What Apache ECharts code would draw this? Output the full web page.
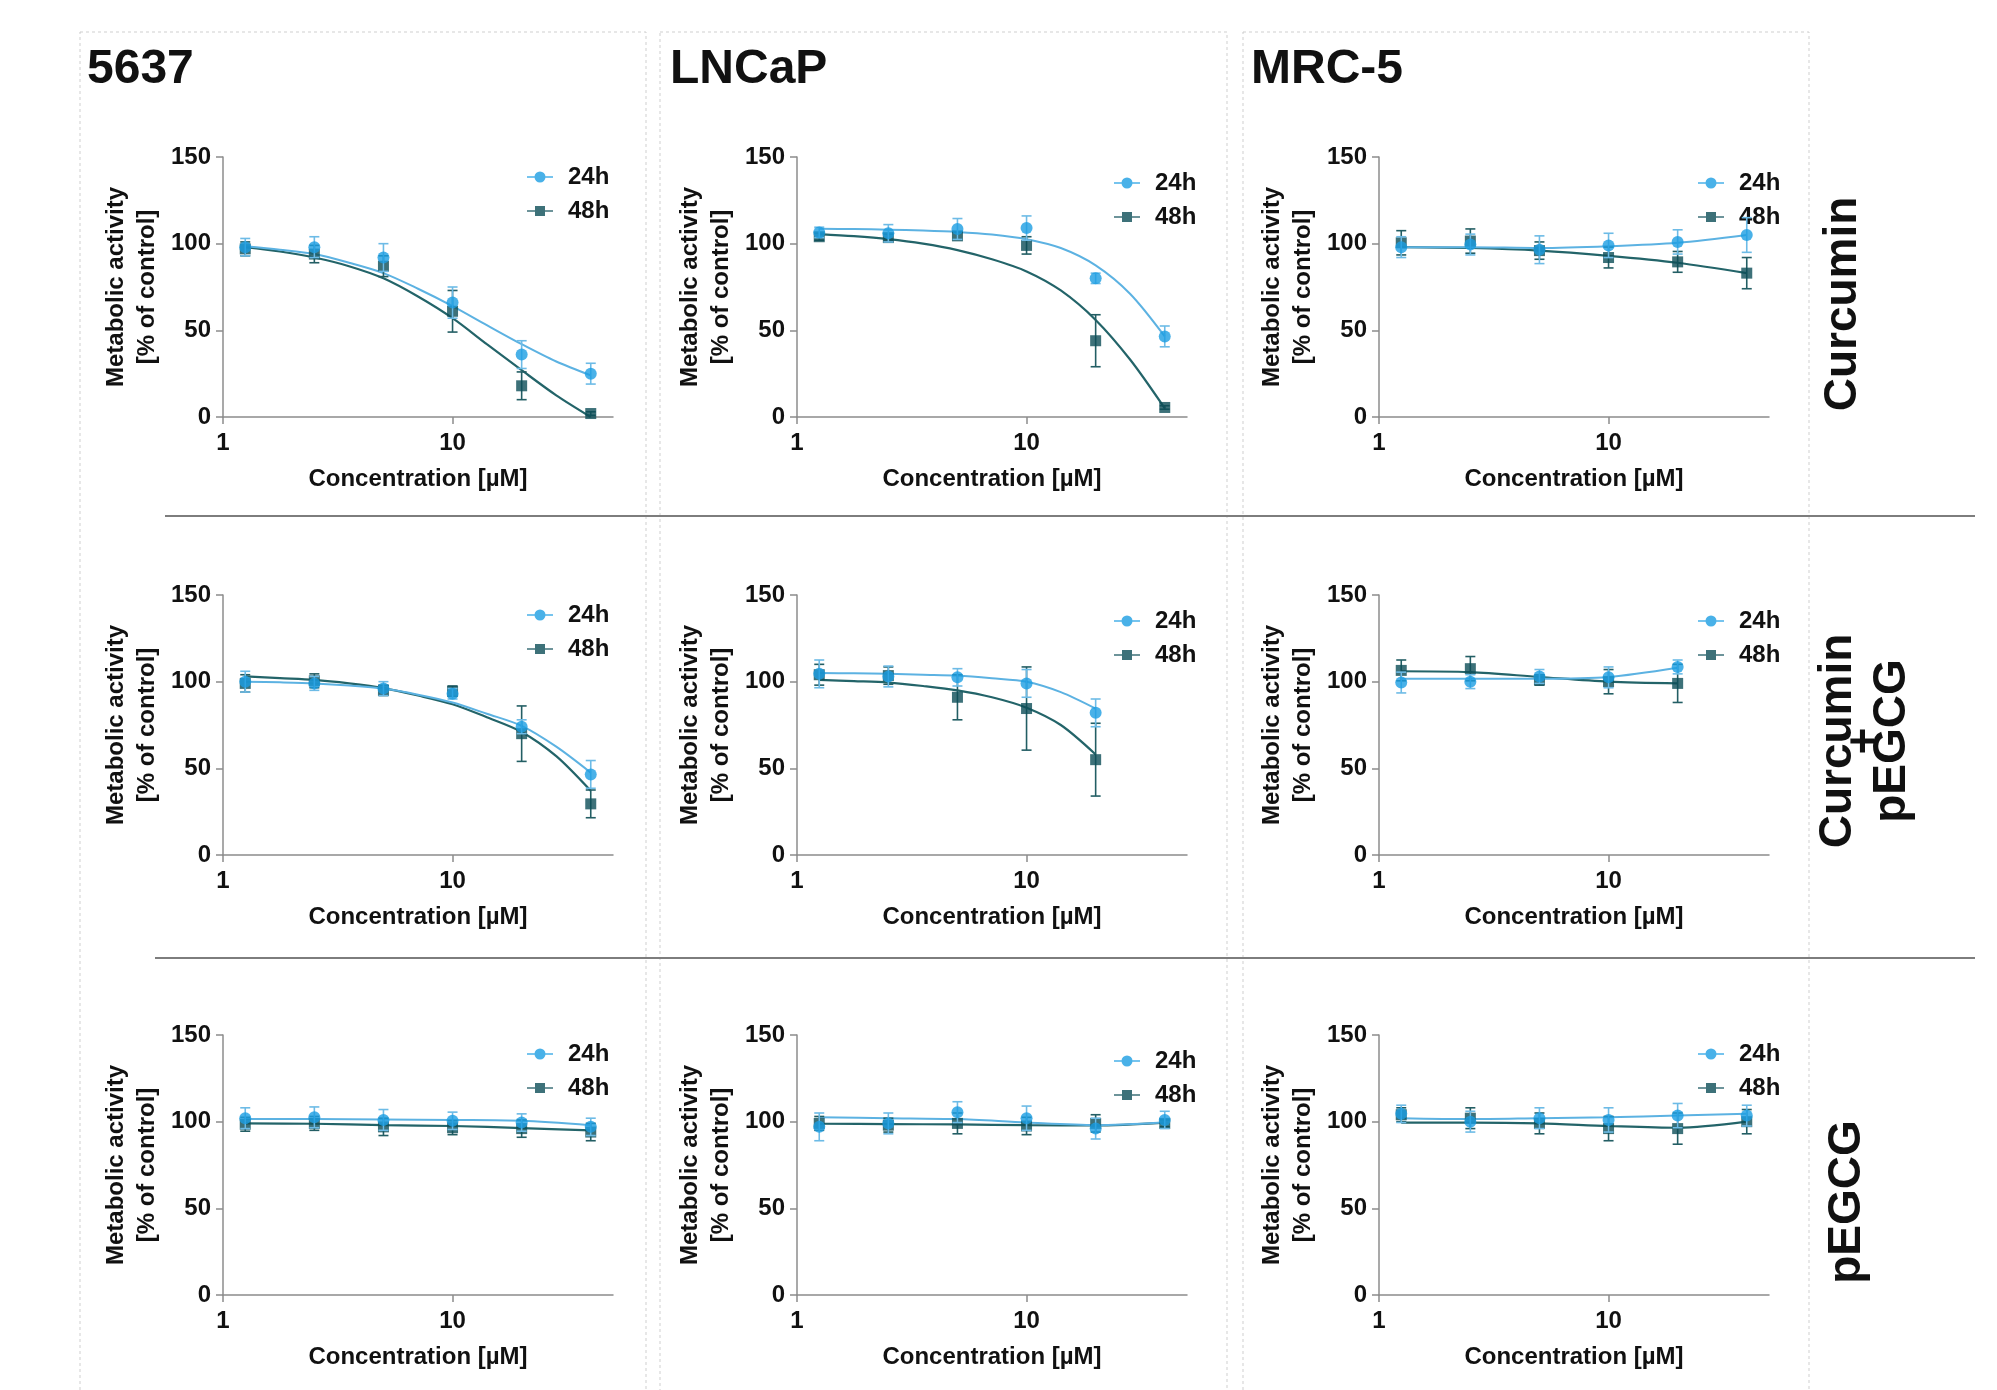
<!DOCTYPE html>
<html lang="en">
<head>
<meta charset="UTF-8">
<script src="https://cdn.jsdelivr.net/npm/echarts@6/dist/echarts.min.js"></script>
<style>
  html, body { margin: 0; padding: 0; background: #fff; }
  #chart { width: 1997px; height: 1390px; }
</style>
</head>
<body>
<div id="chart"></div>
<script>
// concentrations [µM]
const conc = [1.25, 2.5, 5, 10, 20, 40];
// fitted-curve sample positions (half-steps on the log axis)
const fitConc = [1.25, 1.77, 2.5, 3.54, 5, 7.07, 10, 14.1, 20, 28.3, 40];
const xTickValues = [1, 10];

const cellLines = ['5637', 'LNCaP', 'MRC-5'];
const treatments = ['Curcumin', 'Curcumin\n+\npEGCG', 'pEGCG'];
const seriesNames = ['24h', '48h'];

// --- Curcumin ---
const cur5637_24 = [98, 98, 92, 66, 36, 25];
const cur5637_24sd = [5, 6, 8, 9, 8, 6];
const cur5637_48 = [97, 94, 87, 61, 18, 2];
const cur5637_48sd = [4, 5, 6, 12, 8, 1];
const cur5637_24fit = [98.5, 96.5, 94, 89, 83, 74, 64, 53, 42, 32, 24];
const cur5637_48fit = [98, 95.5, 92, 87, 80, 69.5, 57, 42, 27, 12.5, 0];

const curLNCaP_24 = [106.5, 106, 108.5, 109, 80, 46.5];
const curLNCaP_24sd = [3, 5, 6, 7, 3, 6];
const curLNCaP_48 = [104, 103.5, 104.5, 99, 44, 5.5];
const curLNCaP_48sd = [2, 2, 2, 5, 15, 1];
const curLNCaP_24fit = [108.6, 108.4, 108.1, 107.6, 106.8, 105.3, 102.6, 97.5, 87.5, 71, 46.5];
const curLNCaP_48fit = [105.5, 104.3, 102.6, 100, 96.3, 91, 84, 73, 56, 33, 5];

const curMRC5_24 = [98, 99.5, 96.5, 99, 101, 105];
const curMRC5_24sd = [6, 6, 8, 7, 7, 10];
const curMRC5_48 = [100.5, 101.5, 96, 92, 89.5, 83];
const curMRC5_48sd = [7, 7, 5, 6, 6, 9];
const curMRC5_24fit = [98, 98, 97.5, 98.5, 100.5, 105];
const curMRC5_48fit = [98, 97.5, 96, 93, 89, 83];

// --- Curcumin + pEGCG ---
const mix5637_24 = [100, 99, 96, 93, 74, 46.5];
const mix5637_24sd = [6, 4, 4, 3, 4, 8];
const mix5637_48 = [99, 100.5, 95, 94.5, 70, 29.5];
const mix5637_48sd = [5, 4, 3, 3, 16, 8];
const mix5637_24fit = [100, 99.6, 99, 97.8, 96, 92.5, 88, 81.5, 74.5, 62.5, 47.5];
const mix5637_48fit = [103, 102, 101, 99, 96.3, 92, 87, 79.5, 71, 57, 37];

const mixLNCaP_24 = [104.5, 103, 102.5, 99, 82];
const mixLNCaP_24sd = [8, 6, 5, 8, 8];
const mixLNCaP_48 = [104, 103.5, 91, 84.5, 55];
const mixLNCaP_48sd = [6, 5, 13, 24, 21];
const mixLNCaP_24fit = [105, 104.8, 104.5, 104, 103.5, 102, 100, 94, 84.5];
const mixLNCaP_48fit = [101, 100.3, 99.5, 97.5, 95, 91, 85, 75, 58];

const mixMRC5_24 = [99.5, 100, 103, 102.5, 108.5];
const mixMRC5_24sd = [6, 4, 4, 6, 4];
const mixMRC5_48 = [106.5, 107.5, 101, 100, 99];
const mixMRC5_48sd = [6, 7, 3, 7, 11];
const mixMRC5_24fit = [101.7, 101.7, 101.7, 102.7, 108];
const mixMRC5_48fit = [106, 105.5, 102.7, 100, 99];

// --- pEGCG ---
const egc5637_24 = [102, 102.5, 101, 100.5, 99.5, 97];
const egc5637_24sd = [6, 6, 6, 5, 5, 5];
const egc5637_48 = [98.5, 99, 97, 96.5, 96, 94];
const egc5637_48sd = [4, 4, 5, 4, 5, 5];
const egc5637_24fit = [101.5, 101.5, 101.3, 101, 100.5, 98];
const egc5637_48fit = [99, 98.8, 98, 97.5, 96.3, 95];

const egcLNCaP_24 = [97, 99, 105.5, 102, 96, 101];
const egcLNCaP_24sd = [8, 6, 6, 7, 6, 5];
const egcLNCaP_48 = [99, 98, 99, 97.5, 99, 99];
const egcLNCaP_48sd = [4, 4, 6, 5, 5, 2];
const egcLNCaP_24fit = [102.5, 102, 101.5, 99.5, 98, 99.5];
const egcLNCaP_48fit = [98.8, 98.6, 98.4, 98, 97.8, 99.5];

const egcMRC5_24 = [104.5, 100, 102, 101, 103.5, 103.5];
const egcMRC5_24sd = [5, 6, 6, 7, 7, 6];
const egcMRC5_48 = [104, 102, 99, 96, 96, 100];
const egcMRC5_48sd = [4, 6, 6, 7, 9, 7];
const egcMRC5_24fit = [102, 101.5, 102, 102.5, 103.5, 104.5];
const egcMRC5_48fit = [99.5, 99.5, 99, 97.5, 96.5, 100];

// panel list, row-major
const panels = [
  { m24: cur5637_24, s24: cur5637_24sd, m48: cur5637_48, s48: cur5637_48sd, fx: fitConc, f24: cur5637_24fit, f48: cur5637_48fit },
  { m24: curLNCaP_24, s24: curLNCaP_24sd, m48: curLNCaP_48, s48: curLNCaP_48sd, fx: fitConc, f24: curLNCaP_24fit, f48: curLNCaP_48fit },
  { m24: curMRC5_24, s24: curMRC5_24sd, m48: curMRC5_48, s48: curMRC5_48sd, fx: conc, f24: curMRC5_24fit, f48: curMRC5_48fit },
  { m24: mix5637_24, s24: mix5637_24sd, m48: mix5637_48, s48: mix5637_48sd, fx: fitConc, f24: mix5637_24fit, f48: mix5637_48fit },
  { m24: mixLNCaP_24, s24: mixLNCaP_24sd, m48: mixLNCaP_48, s48: mixLNCaP_48sd, fx: fitConc, f24: mixLNCaP_24fit, f48: mixLNCaP_48fit },
  { m24: mixMRC5_24, s24: mixMRC5_24sd, m48: mixMRC5_48, s48: mixMRC5_48sd, fx: conc, f24: mixMRC5_24fit, f48: mixMRC5_48fit },
  { m24: egc5637_24, s24: egc5637_24sd, m48: egc5637_48, s48: egc5637_48sd, fx: conc, f24: egc5637_24fit, f48: egc5637_48fit },
  { m24: egcLNCaP_24, s24: egcLNCaP_24sd, m48: egcLNCaP_48, s48: egcLNCaP_48sd, fx: conc, f24: egcLNCaP_24fit, f48: egcLNCaP_48fit },
  { m24: egcMRC5_24, s24: egcMRC5_24sd, m48: egcMRC5_48, s48: egcMRC5_48sd, fx: conc, f24: egcMRC5_24fit, f48: egcMRC5_48fit }
];

// layout
const FONT = '"Liberation Sans", Arial, sans-serif';
const gridLeft = [223, 797, 1379];
const gridTop = [157, 595, 1035];
const gridW = 390, gridH = 260;
const legLeft = [527, 1114, 1698];
const legTop = [165, 171, 171, 603, 609, 609, 1042, 1049, 1042];

const col24 = { dot: '#1b9de2', line: '#5cb2e2', err: '#6dbbe6' };
const col48 = { dot: '#0d4e57', line: '#236469', err: '#235e64' };
const axisGrey = '#8c8c8c';

const iconCircle = 'path://M0,4.8L8,4.8L8,6.2L0,6.2Z M18,4.8L26,4.8L26,6.2L18,6.2Z M7.5,5.5A5.5,5.5 0 1 1 18.5,5.5A5.5,5.5 0 1 1 7.5,5.5Z';
const iconSquare = 'path://M0,4.8L8,4.8L8,6.2L0,6.2Z M18,4.8L26,4.8L26,6.2L18,6.2Z M8,0.5L18,0.5L18,10.5L8,10.5Z';

function errSeries(i, x, m, sd, color, z) {
  return {
    type: 'custom', xAxisIndex: i, yAxisIndex: i, silent: true, z: z,
    data: m.map((v, k) => [x[k], v, sd[k]]),
    encode: { x: 0, y: 1 },
    renderItem: function (params, api) {
      const cx = api.value(0), y = api.value(1), s = api.value(2);
      const top = api.coord([cx, y + s]);
      const bot = api.coord([cx, Math.max(y - s, 0)]);
      const w = 5;
      const st = { stroke: color, lineWidth: 1.6 };
      return { type: 'group', children: [
        { type: 'line', shape: { x1: top[0], y1: top[1], x2: bot[0], y2: bot[1] }, style: st },
        { type: 'line', shape: { x1: top[0] - w, y1: top[1], x2: top[0] + w, y2: top[1] }, style: st },
        { type: 'line', shape: { x1: bot[0] - w, y1: bot[1], x2: bot[0] + w, y2: bot[1] }, style: st }
      ]};
    }
  };
}

const grids = [], xAxes = [], yAxes = [], series = [], legends = [];
panels.forEach((p, i) => {
  const row = Math.floor(i / 3), col = i % 3;
  grids.push({ left: gridLeft[col], top: gridTop[row], width: gridW, height: gridH, outerBoundsMode: 'none' });
  xAxes.push({
    type: 'log', logBase: 10, gridIndex: i, min: 1, max: 50,
    name: 'Concentration [µM]', nameLocation: 'middle', nameGap: 50,
    nameTextStyle: { fontSize: 24, fontWeight: 'bold', fontFamily: FONT, color: '#111' },
    axisLine: { lineStyle: { color: axisGrey, width: 1.5 } },
    axisTick: { length: 7, customValues: xTickValues, lineStyle: { color: axisGrey, width: 1.5 } },
    axisLabel: {
      fontSize: 24, fontWeight: 'bold', fontFamily: FONT, color: '#111', margin: 14,
      formatter: v => {
        const l = Math.log10(v);
        return Math.abs(l - Math.round(l)) < 1e-6 ? String(Math.round(v)) : '';
      }
    },
    splitLine: { show: false }, minorTick: { show: false }
  });
  yAxes.push({
    type: 'value', gridIndex: i, min: 0, max: 150, interval: 50,
    name: 'Metabolic activity\n[% of control]', nameLocation: 'middle', nameGap: 60, nameRotate: 90,
    nameTextStyle: { fontSize: 24, fontWeight: 'bold', fontFamily: FONT, color: '#111', lineHeight: 31 },
    axisLine: { show: true, lineStyle: { color: axisGrey, width: 1.5 } },
    axisTick: { show: true, length: 7, lineStyle: { color: axisGrey, width: 1.5 } },
    axisLabel: { fontSize: 24, fontWeight: 'bold', fontFamily: FONT, color: '#111', margin: 12 },
    splitLine: { show: false }
  });
  series.push({
    type: 'line', xAxisIndex: i, yAxisIndex: i, silent: true, z: 2, smooth: 0.3,
    symbol: 'none', lineStyle: { color: col48.line, width: 2.2 },
    data: p.f48.map((v, k) => [p.fx[k], v])
  });
  series.push({
    type: 'line', xAxisIndex: i, yAxisIndex: i, silent: true, z: 2, smooth: 0.3,
    symbol: 'none', lineStyle: { color: col24.line, width: 2 },
    data: p.f24.map((v, k) => [p.fx[k], v])
  });
  series.push(errSeries(i, conc, p.m48, p.s48, col48.err, 3));
  series.push({
    type: 'scatter', name: seriesNames[1], xAxisIndex: i, yAxisIndex: i, silent: true, z: 4,
    symbol: 'rect', symbolSize: 11, itemStyle: { color: col48.dot },
    data: p.m48.map((v, k) => [conc[k], v])
  });
  series.push(errSeries(i, conc, p.m24, p.s24, col24.err, 5));
  series.push({
    type: 'scatter', name: seriesNames[0], xAxisIndex: i, yAxisIndex: i, silent: true, z: 6,
    symbol: 'circle', symbolSize: 12, itemStyle: { color: col24.dot },
    data: p.m24.map((v, k) => [conc[k], v])
  });
  legends.push({
    orient: 'vertical', left: legLeft[col], top: legTop[i], padding: 0,
    itemWidth: 26, itemHeight: 11, itemGap: 10, selectedMode: false,
    data: [{ name: seriesNames[0], icon: iconCircle }, { name: seriesNames[1], icon: iconSquare }],
    textStyle: { fontSize: 24, fontWeight: 'bold', fontFamily: FONT, color: '#111', padding: [0, 0, 0, 10] }
  });
});

// decorations: column frames, row separators, titles, row labels
const graphics = [];
[[80, 646], [660, 1227], [1243, 1809]].forEach(([a, b]) => {
  graphics.push({ type: 'rect', silent: true, z: -1,
    shape: { x: a, y: 32, width: b - a, height: 1400 },
    style: { fill: 'none', stroke: '#cfcfcf', lineWidth: 1, lineDash: [3, 3] } });
});
graphics.push({ type: 'line', silent: true, shape: { x1: 165, y1: 516, x2: 1975, y2: 516 }, style: { stroke: '#7d7d7d', lineWidth: 2 } });
graphics.push({ type: 'line', silent: true, shape: { x1: 155, y1: 958, x2: 1975, y2: 958 }, style: { stroke: '#7d7d7d', lineWidth: 2 } });
const titleX = [87, 670, 1251];
cellLines.forEach((t, c) => {
  graphics.push({ type: 'text', silent: true, x: titleX[c], y: 46,
    style: { text: t, font: 'bold 48px ' + FONT, fill: '#111', align: 'left', verticalAlign: 'top' } });
});
const rowLabelX = [1843, 1865, 1847];
const rowLabelY = [304, 741, 1202];
treatments.forEach((t, r) => {
  graphics.push({ type: 'text', silent: true, x: rowLabelX[r], y: rowLabelY[r], rotation: Math.PI / 2,
    style: { text: t, font: 'bold 46px ' + FONT, fill: '#111', align: 'center', verticalAlign: 'middle', lineHeight: 27 } });
});

const chart = echarts.init(document.getElementById('chart'), null, { renderer: 'canvas' });
chart.setOption({
  animation: false,
  backgroundColor: '#fff',
  grid: grids,
  xAxis: xAxes,
  yAxis: yAxes,
  legend: legends,
  series: series,
  graphic: { elements: graphics }
});
</script>
</body>
</html>
